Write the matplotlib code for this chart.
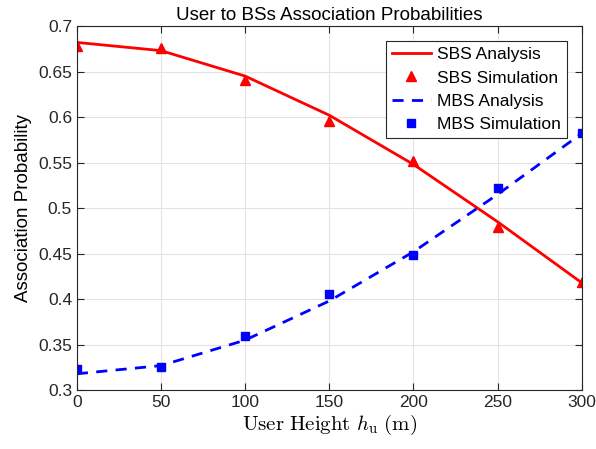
import matplotlib
matplotlib.use("Agg")
from matplotlib import pyplot as plt

heights = [0, 50, 100, 150, 200, 250, 300]
sbs_analysis = [0.682, 0.673, 0.645, 0.602, 0.548, 0.485, 0.418]
sbs_simulation = [0.678, 0.676, 0.641, 0.596, 0.552, 0.479, 0.419]
mbs_analysis = [0.318, 0.327, 0.355, 0.398, 0.452, 0.515, 0.582]
mbs_simulation = [0.323, 0.326, 0.360, 0.406, 0.448, 0.522, 0.582]

plt.rcParams['font.family'] = ['Liberation Sans', 'DejaVu Sans']
plt.rcParams['mathtext.fontset'] = 'cm'

f = plt.figure(figsize=(5.96, 4.49), dpi=100)
ax = f.add_axes([0.129, 0.131, 0.847, 0.811])

ax.plot(heights, sbs_analysis, color='red', lw=2, label='SBS Analysis')
ax.plot(heights, sbs_simulation, ls='none', marker='^', ms=7.5, color='red',
        label='SBS Simulation')
ax.plot(heights, mbs_analysis, color='blue', lw=2, ls=(0, (4, 3)),
        label='MBS Analysis')
ax.plot(heights, mbs_simulation, ls='none', marker='s', ms=6, color='blue',
        label='MBS Simulation')

ax.set_xlim(0, 300)
ax.set_ylim(0.3, 0.7)
ax.set_xticks(range(0, 301, 50))
ax.set_yticks([0.3, 0.35, 0.4, 0.45, 0.5, 0.55, 0.6, 0.65, 0.7])
ax.set_yticklabels(['0.3', '0.35', '0.4', '0.45', '0.5', '0.55', '0.6', '0.65', '0.7'])
ax.tick_params(direction='in', top=True, right=True, labelsize=12.5,
               colors='#262626', length=5)
for s in ax.spines.values():
    s.set_color('#262626')
ax.grid(True, color='#e3e3e3', lw=0.8)

ax.set_title('User to BSs Association Probabilities', fontsize=13.5, pad=4)
ax.set_ylabel('Association Probability', fontsize=13.5)
ax.set_xlabel(r'$\mathrm{User\ Height}\ h_\mathrm{u}\ \mathrm{(m)}$', fontsize=15,
              labelpad=2)

leg = ax.legend(loc='upper right', bbox_to_anchor=(0.970, 0.959), fontsize=12.5,
                fancybox=False, framealpha=1, edgecolor='#262626',
                handlelength=2.2, labelspacing=0.47, borderpad=0.35,
                handletextpad=0.35, borderaxespad=0)
leg.get_frame().set_linewidth(0.8)

f.savefig('out.png', dpi=100)
